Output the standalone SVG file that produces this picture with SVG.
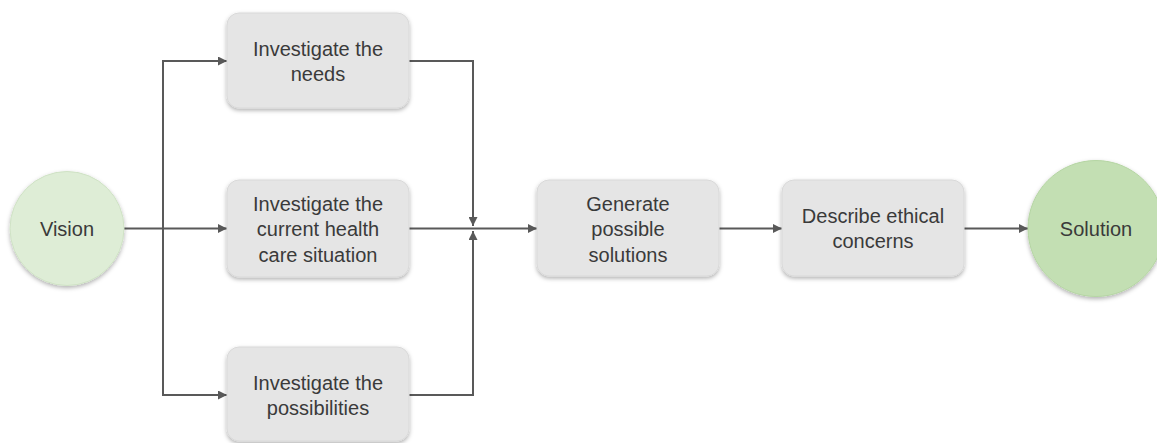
<svg xmlns="http://www.w3.org/2000/svg" width="1157" height="443" viewBox="0 0 1157 443">
<style>
.box{fill:#e5e5e5;stroke:#d9d9d9;stroke-width:1;filter:url(#sh)}
.t{font-family:"Liberation Sans",Arial,sans-serif;font-size:20px;fill:#3a3a3a;text-anchor:middle}
.c{fill:none;stroke:#595959;stroke-width:2}
</style>
<defs>
<filter id="sh" x="-20%" y="-20%" width="140%" height="150%">
<feDropShadow dx="0" dy="2" stdDeviation="2" flood-color="#000" flood-opacity="0.3"/>
</filter>
<marker id="ar" viewBox="0 0 10 10" refX="10" refY="5" markerWidth="4.5" markerHeight="4.5" orient="auto" markerUnits="strokeWidth">
<path d="M0,0 L10,5 L0,10 z" fill="#595959"/>
</marker>
</defs>
<g id="connectors">
<path class="c" d="M124,228.5 H227" marker-end="url(#ar)"/>
<path class="c" d="M163,228.5 V61 H227" marker-end="url(#ar)"/>
<path class="c" d="M163,228.5 V395 H227" marker-end="url(#ar)"/>
<path class="c" d="M409,61 H473 V226" marker-end="url(#ar)"/>
<path class="c" d="M409,395 H473 V231" marker-end="url(#ar)"/>
<path class="c" d="M409,228.5 H537" marker-end="url(#ar)"/>
<path class="c" d="M719,228.5 H782" marker-end="url(#ar)"/>
<path class="c" d="M964,228.5 H1028" marker-end="url(#ar)"/>
</g>
<g id="vision">
<circle cx="67" cy="228.5" r="57" fill="#deedd6" stroke="#cfe2c5" stroke-width="1" filter="url(#sh)"/>
<text class="t" x="67" y="236">Vision</text>
</g>
<g id="needs">
<rect class="box" x="227" y="13" width="182" height="95" rx="12"/>
<text class="t" x="318" y="56">Investigate the</text>
<text class="t" x="318" y="81">needs</text>
</g>
<g id="current">
<rect class="box" x="227" y="180" width="182" height="97" rx="12"/>
<text class="t" x="318" y="211">Investigate the</text>
<text class="t" x="318" y="236">current health</text>
<text class="t" x="318" y="262">care situation</text>
</g>
<g id="possibilities">
<rect class="box" x="227" y="347" width="182" height="94" rx="12"/>
<text class="t" x="318" y="390">Investigate the</text>
<text class="t" x="318" y="415">possibilities</text>
</g>
<g id="generate">
<rect class="box" x="537" y="180" width="182" height="96" rx="12"/>
<text class="t" x="628" y="211">Generate</text>
<text class="t" x="628" y="236">possible</text>
<text class="t" x="628" y="262">solutions</text>
</g>
<g id="describe">
<rect class="box" x="782" y="180" width="182" height="96" rx="12"/>
<text class="t" x="873" y="223">Describe ethical</text>
<text class="t" x="873" y="248">concerns</text>
</g>
<g id="solution">
<circle cx="1096" cy="228.5" r="68" fill="#c3dfb3" stroke="#b5d5a3" stroke-width="1" filter="url(#sh)"/>
<text class="t" x="1096" y="236">Solution</text>
</g>
</svg>
